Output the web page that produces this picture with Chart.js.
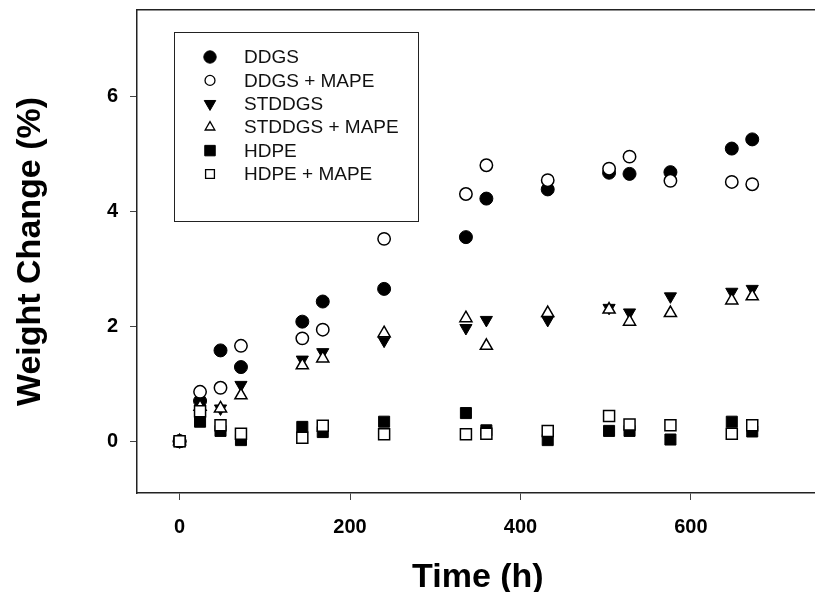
<!DOCTYPE html>
<html>
<head>
<meta charset="utf-8">
<script src="https://cdn.jsdelivr.net/npm/chart.js@4.4.1/dist/chart.umd.min.js"></script>
<style>
  html, body { margin: 0; padding: 0; background: #fff; overflow: hidden; }
  #weightChart { display: block; }
</style>
</head>
<body>
<!-- the original figure is cropped on the right, so the canvas runs a bit past the window -->
<canvas id="weightChart" width="828" height="592"></canvas>
<script>
// time points (h)
const hours = [0, 24, 48, 72, 144, 168, 240, 336, 360, 432, 504, 528, 576, 648, 672];

// weight change (%)
const ddgs =          [0, 0.70, 1.58, 1.29, 2.08, 2.43, 2.65, 3.55, 4.22, 4.38, 4.67, 4.65, 4.68, 5.09, 5.25];
const ddgsMape =      [0, 0.86, 0.93, 1.66, 1.79, 1.94, 3.52, 4.30, 4.80, 4.54, 4.74, 4.95, 4.53, 4.51, 4.47];
const stddgs =        [0, 0.66, 0.57, 0.98, 1.42, 1.55, 1.75, 1.97, 2.11, 2.11, 2.32, 2.24, 2.52, 2.60, 2.65];
const stddgsMape =    [0, 0.60, 0.57, 0.80, 1.32, 1.44, 1.88, 2.14, 1.66, 2.23, 2.29, 2.08, 2.23, 2.45, 2.52];
const hdpe =          [0, 0.34, 0.18, 0.02, 0.25, 0.16, 0.34, 0.49, 0.19, 0.02, 0.18, 0.18, 0.03, 0.34, 0.17];
const hdpeMape =      [0, 0.52, 0.28, 0.13, 0.06, 0.27, 0.12, 0.12, 0.13, 0.18, 0.44, 0.29, 0.28, 0.13, 0.28];

const seriesNames = ["DDGS", "DDGS + MAPE", "STDDGS", "STDDGS + MAPE", "HDPE", "HDPE + MAPE"];

const xTicks = [0, 200, 400, 600];
const yTicks = [0, 2, 4, 6];

const FONT = "'Liberation Sans', Arial, Helvetica, sans-serif";

function pts(values) {
  return hours.map((h, i) => ({ x: h, y: values[i] }));
}

// marker style per series
const markers = [
  { style: "circle",   radius: 6.5, rot: 0,   filled: true },
  { style: "circle",   radius: 6.2, rot: 0,   filled: false },
  { style: "triangle", radius: 7,   rot: 180, filled: true },
  { style: "triangle", radius: 7,   rot: 0,   filled: false },
  { style: "rect",     radius: 7.8, rot: 0,   filled: true },
  { style: "rect",     radius: 7.8, rot: 0,   filled: false },
];

const allValues = [ddgs, ddgsMape, stddgs, stddgsMape, hdpe, hdpeMape];

const datasets = allValues.map((vals, i) => ({
  label: seriesNames[i],
  data: pts(vals),
  pointStyle: markers[i].style,
  pointRadius: markers[i].radius,
  pointRotation: markers[i].rot,
  backgroundColor: markers[i].filled ? "#000" : "#fff",
  borderColor: "#000",
  borderWidth: markers[i].filled ? 1 : 1.5,
  showLine: false,
  order: 5 - i, // later series sit on top
}));

// drop the auto padding Chart.js reserves for tick labels, so the plot box is exact
function noPad(s) {
  s.paddingTop = 0;
  s.paddingBottom = 0;
  s.paddingLeft = 0;
  s.paddingRight = 0;
}

// legend box inside the plot
const boxLegend = {
  id: "boxLegend",
  afterDraw(chart) {
    const ctx = chart.ctx;
    ctx.save();
    ctx.fillStyle = "#fff";
    ctx.strokeStyle = "#222";
    ctx.lineWidth = 1;
    ctx.fillRect(174, 32, 244, 189);
    ctx.strokeRect(174.5, 32.5, 244, 189);
    seriesNames.forEach((name, i) => {
      const y = 57 + i * 23.4;
      const m = markers[i];
      ctx.fillStyle = m.filled ? "#000" : "#fff";
      ctx.strokeStyle = "#000";
      ctx.lineWidth = m.filled ? 1 : 1.3;
      ctx.beginPath();
      Chart.helpers.drawPoint(ctx, {
        pointStyle: m.style,
        radius: m.filled ? m.radius * 0.95 : m.radius * 0.8,
        rotation: m.rot,
        borderWidth: ctx.lineWidth,
      }, 210, y);
      ctx.fillStyle = "#111";
      ctx.font = "19px " + FONT;
      ctx.textAlign = "left";
      ctx.textBaseline = "middle";
      ctx.fillText(name, 244, y + 1);
    });
    ctx.restore();
  },
};

const ctx = document.getElementById("weightChart").getContext("2d");
new Chart(ctx, {
  type: "scatter",
  data: { datasets },
  options: {
    responsive: false,
    animation: false,
    layout: { padding: { top: 10, right: 0, left: 0, bottom: 0 } },
    plugins: {
      legend: { display: false },
      tooltip: { enabled: false },
    },
    scales: {
      x: {
        type: "linear",
        position: "bottom",
        min: -50,
        max: 750,
        afterBuildTicks: (s) => { s.ticks = xTicks.map((v) => ({ value: v })); },
        afterFit: (s) => { s.height = 99; noPad(s); },
        ticks: {
          font: { family: FONT, size: 20, weight: "bold" },
          color: "#000",
          padding: 15,
          maxRotation: 0,
        },
        grid: { drawOnChartArea: false, drawTicks: true, tickLength: 7, color: "#444", lineWidth: 1 },
        border: { display: true, color: "#222", width: 1.5 },
        title: {
          display: true,
          text: "Time (h)",
          color: "#000",
          font: { family: FONT, size: 34, weight: "bold", lineHeight: 0.82 },
          padding: { top: 0, bottom: 0 },
        },
      },
      xTop: {
        type: "linear",
        position: "top",
        min: -50,
        max: 750,
        afterFit: (s) => { s.height = 0; noPad(s); },
        ticks: { display: false },
        grid: { display: false, drawTicks: false },
        border: { display: true, color: "#222", width: 1.5 },
      },
      y: {
        type: "linear",
        position: "left",
        min: -0.9,
        max: 7.5,
        afterBuildTicks: (s) => { s.ticks = yTicks.map((v) => ({ value: v })); },
        afterFit: (s) => { s.width = 137; noPad(s); },
        ticks: {
          font: { family: FONT, size: 20, weight: "bold" },
          color: "#000",
          padding: 12,
        },
        grid: { drawOnChartArea: false, drawTicks: true, tickLength: 7, color: "#444", lineWidth: 1 },
        border: { display: true, color: "#222", width: 1.5 },
        title: {
          display: true,
          text: "Weight Change (%)",
          color: "#000",
          font: { family: FONT, size: 34, weight: "bold", lineHeight: 0.82 },
          padding: { top: 17, bottom: 0 },
        },
      },
    },
  },
  plugins: [boxLegend],
});
</script>
</body>
</html>
